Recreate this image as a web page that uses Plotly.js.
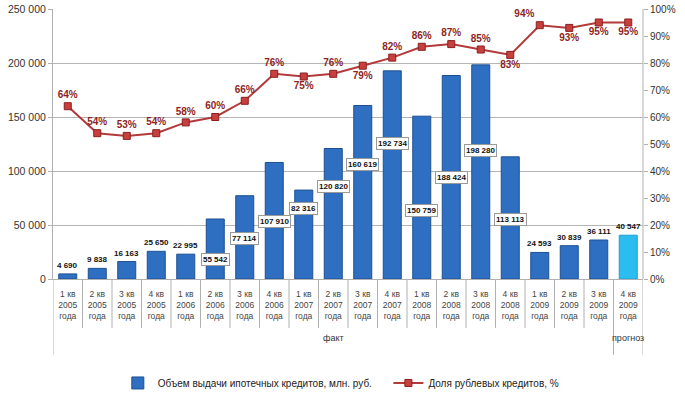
<!DOCTYPE html>
<html><head><meta charset="utf-8">
<script src="https://cdn.plot.ly/plotly-3.0.1.min.js"></script>
<style>body{margin:0;background:#fff}#chart{width:685px;height:394px}</style>
</head><body><div id="chart"></div>
<script>
// ---- data ----
const quarters = ["1 кв","2 кв","3 кв","4 кв","1 кв","2 кв","3 кв","4 кв","1 кв","2 кв","3 кв","4 кв","1 кв","2 кв","3 кв","4 кв","1 кв","2 кв","3 кв","4 кв"];
const years = ["2005","2005","2005","2005","2006","2006","2006","2006","2007","2007","2007","2007","2008","2008","2008","2008","2009","2009","2009","2009"];
const yearWord = "года";
const volume = [4690, 9838, 16163, 25650, 22995, 55542, 77114, 107910, 82316, 120820, 160619, 192734, 150759, 188424, 198280, 113113, 24593, 30839, 36111, 40547];
const rubShare = [64, 54, 53, 54, 58, 60, 66, 76, 75, 76, 79, 82, 86, 87, 85, 83, 94, 93, 95, 95];
const groupFact = "факт";
const groupForecast = "прогноз";
const nameVolume = "Объем выдачи ипотечных кредитов, млн. руб.";
const nameShare = "Доля рублевых кредитов, %";

// ---- styling ----
const FONT = "Liberation Sans, Arial, sans-serif";
const barBlue = "#2f6fc2", barCyan = "#2cbdf0";
const lineRed = "#b23a3a", markerRed = "#c8403e", labelRed = "#8e1f1f";
const boxed = [false,false,false,false,false,true,true,true,true,true,true,true,true,true,true,true,false,false,false,false];
const labelFrac = [0,0,0,0,0,0.32,0.49,0.49,0.79,0.71,0.66,0.65,0.42,0.50,0.60,0.49,0,0,0,0];
const sharePos = ["top center","top center","top center","top center","top center","top center","top center","top center","bottom center","top center","bottom center","top center","top center","top center","top center","bottom center","top left","bottom center","bottom center","bottom center"];

const cats = quarters.map((q,i)=> q + "<br>" + years[i] + "<br>" + yearWord);
const fmt = v => String(v).replace(/\B(?=(\d{3})+(?!\d))/g, " ");

const barTrace = {
  type: "bar", x: cats, y: volume, name: nameVolume, yaxis: "y", legend: "legend",
  marker: {color: volume.map((v,i)=> i === volume.length-1 ? barCyan : barBlue),
           line: {color: volume.map((v,i)=> i === volume.length-1 ? "#1c9fd0" : "#1d4f92"), width: 1}},
  hoverinfo: "skip"
};
const lineTrace = {
  type: "scatter", mode: "lines+markers+text", x: cats, y: rubShare, name: nameShare, yaxis: "y2", legend: "legend2",
  line: {color: lineRed, width: 2},
  marker: {symbol: "square", size: 7, color: markerRed, line: {color: "#8a1e1e", width: 1}},
  text: rubShare.map(v => v + "%"), textposition: sharePos,
  textfont: {family: FONT, size: 10, color: labelRed, weight: "bold"},
  cliponaxis: false, hoverinfo: "skip"
};

const annotations = volume.map((v,i)=> boxed[i] ? {
  x: cats[i], y: v*labelFrac[i], xref: "x", yref: "y", text: "<b>" + fmt(v) + "</b>",
  showarrow: false, bgcolor: "#ffffff", bordercolor: "#9a9a9a", borderwidth: 1, borderpad: 1,
  font: {family: FONT, size: 8, color: "#111"}
} : {
  x: cats[i], y: v, xref: "x", yref: "y", text: "<b>" + fmt(v) + "</b>", yanchor: "bottom", yshift: 2,
  showarrow: false, font: {family: FONT, size: 8, color: "#111"}
});
annotations.push({x: 9, xref: "x", y: -0.245, yref: "paper", text: groupFact, showarrow: false,
  font: {family: FONT, size: 9, color: "#333"}});
annotations.push({x: 19, xref: "x", y: -0.245, yref: "paper", text: groupForecast, showarrow: false,
  font: {family: FONT, size: 9, color: "#333"}});

const shapes = [];
for (let i = 0; i <= cats.length; i++) {
  const long = (i === 0 || i === cats.length - 1 || i === cats.length);
  shapes.push({type: "line", xref: "x", yref: "paper", x0: i - 0.5, x1: i - 0.5, y0: 0, y1: long ? -0.281 : -0.181,
    line: {color: "#b0b0b0", width: 1}});
}
shapes.push({type: "line", xref: "paper", yref: "paper", x0: 1, x1: 1, y0: 0, y1: 1, line: {color: "#b0b0b0", width: 1}});

const legendCommon = {orientation: "h", xref: "container", yref: "container", y: 0.028, xanchor: "left", yanchor: "middle",
  font: {family: FONT, size: 10, color: "#222"}, itemwidth: 30, bgcolor: "rgba(0,0,0,0)"};

const layout = {
  width: 685, height: 394,
  margin: {l: 53, r: 42, t: 9, b: 115, autoexpand: false},
  paper_bgcolor: "#fff", plot_bgcolor: "#fff",
  separators: ", ",
  bargap: 0.39,
  showlegend: true,
  legend: Object.assign({}, legendCommon, {x: 0.172}),
  legend2: Object.assign({}, legendCommon, {x: 0.567}),
  xaxis: {type: "category", range: [-0.5, cats.length - 0.5], showgrid: false, showline: true, linecolor: "#b0b0b0", ticks: "",
    tickfont: {family: FONT, size: 8.5, color: "#444"}, tickangle: 0, ticklabelstandoff: 7, fixedrange: true, automargin: false},
  yaxis: {range: [0, 250000], dtick: 50000, tickformat: ",d", showgrid: true, gridcolor: "#b5b5b5", gridwidth: 1,
    showline: true, linecolor: "#b0b0b0", ticks: "outside", ticklen: 4, tickcolor: "#b0b0b0",
    tickfont: {family: FONT, size: 10.5, color: "#333"}, zeroline: false, automargin: false},
  yaxis2: {overlaying: "y", side: "right", range: [0, 100], dtick: 10, ticksuffix: "%", showgrid: false,
    showline: false, ticks: "outside", ticklen: 4, tickcolor: "#b0b0b0", zeroline: false,
    tickfont: {family: FONT, size: 10, color: "#333"}, automargin: false},
  annotations: annotations, shapes: shapes
};

Plotly.newPlot("chart", [barTrace, lineTrace], layout, {displayModeBar: false, staticPlot: true});
</script></body></html>
